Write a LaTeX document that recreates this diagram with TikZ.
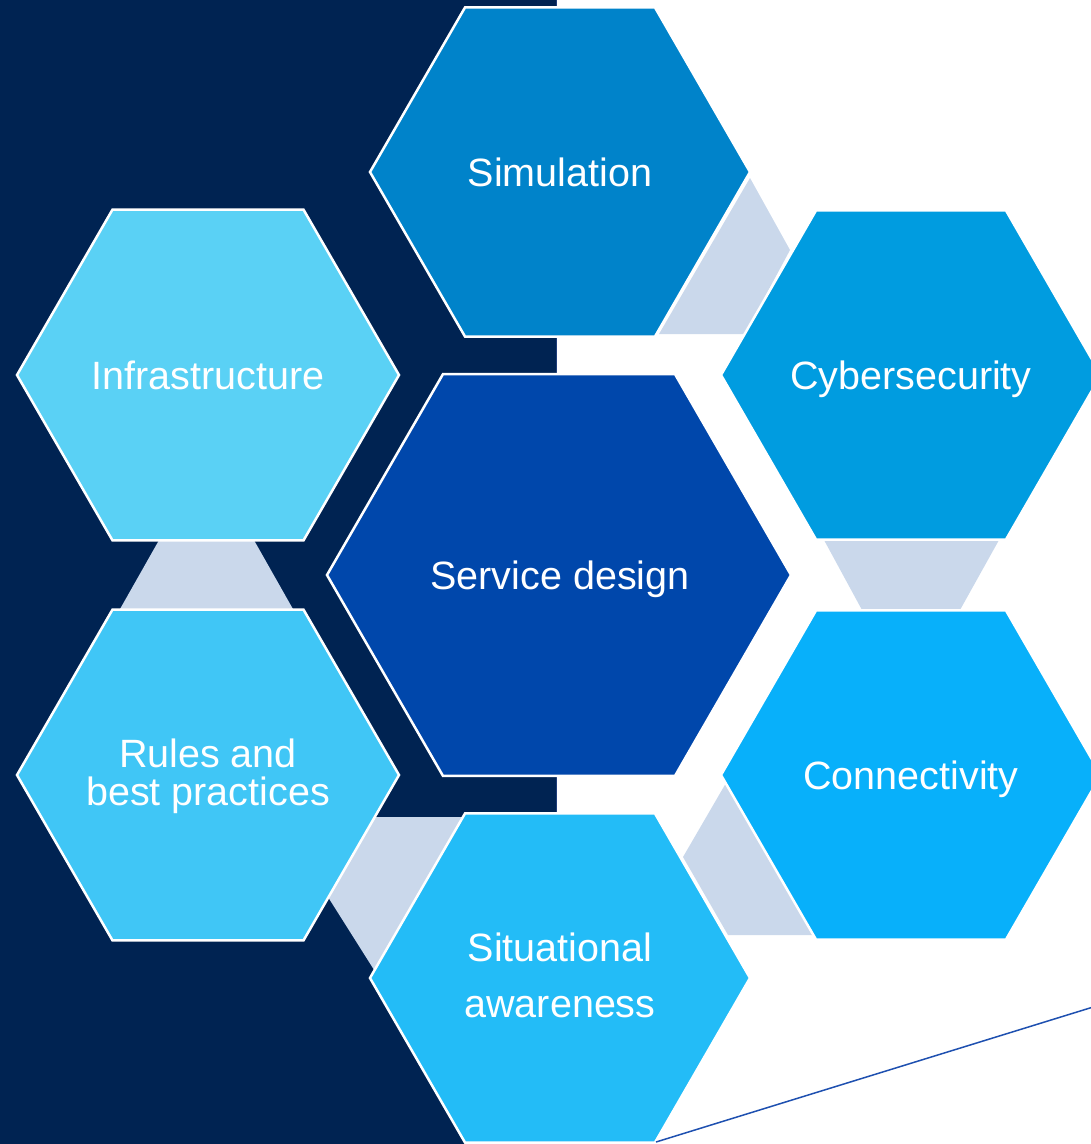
\documentclass[tikz,border=0pt]{standalone}
\usepackage{fontspec}
\setmainfont{Liberation Sans}
\definecolor{navybg}{HTML}{002352}
\definecolor{navyedge}{HTML}{1F3D7A}
\definecolor{linkc}{HTML}{CAD8EB}
\definecolor{csim}{HTML}{0083CA}
\definecolor{cinfra}{HTML}{5AD1F5}
\definecolor{ccyber}{HTML}{009CE0}
\definecolor{cservice}{HTML}{0047AB}
\definecolor{crules}{HTML}{40C6F6}
\definecolor{cconn}{HTML}{08B0FA}
\definecolor{csitu}{HTML}{23BCF7}
\definecolor{cline}{HTML}{1E50B0}
\newcommand\drawhex[4]{%
  \draw[hexcell, fill=#4] ({#1-#3},#2) -- ({#1-#3/2},{#2-#3*0.8660}) -- ({#1+#3/2},{#2-#3*0.8660})
    -- ({#1+#3},#2) -- ({#1+#3/2},{#2+#3*0.8660}) -- ({#1-#3/2},{#2+#3*0.8660}) -- cycle;}
\begin{document}
\begin{tikzpicture}[x=1pt,y=-1pt,
  hexcell/.style={draw=white, line width=2.5pt, line join=miter},
  link/.style={fill=linkc, draw=none},
  lbl/.style={text=white, font=\fontsize{39.5}{38}\selectfont, inner sep=0pt, align=center},
  tail/.style={draw=cline, line width=1.5pt}]
\useasboundingbox (0,0) rectangle (1091,1144);
\clip (0,0) rectangle (1091,1144);
% dark background panel
\filldraw[fill=navybg, draw=navyedge, line width=1pt] (-2,-2) rectangle (556,1150);
% connector bands
\fill[link] (750,178) -- (790,250) -- (745,334) -- (659,334) -- cycle;
\fill[link] (159.1,540) -- (253.9,540) -- (294.1,611) -- (118.9,611) -- cycle;
\fill[link] (824,540) -- (999,540) -- (960,610) -- (862,610) -- cycle;
\fill[link] (726,783) -- (683,857) -- (728,935) -- (813,935) -- cycle;
\fill[link] (375,817) -- (465,817) -- (375.7,972.5) -- (328,897) -- cycle;
% hexagons
\drawhex{560}{172}{190}{csim}
\drawhex{208}{375}{191}{cinfra}
\drawhex{911}{375}{190}{ccyber}
\drawhex{559}{575}{232}{cservice}
\drawhex{208}{775}{191}{crules}
\drawhex{911}{775}{190}{cconn}
\drawhex{560}{978}{190}{csitu}
% labels
\node[lbl, anchor=base] (sim) at (560,186) {Simulation};
\node[lbl, anchor=base] (infra) at (208,389) {Infrastructure};
\node[lbl, anchor=base] (cyber) at (911,389) {Cybersecurity};
\node[lbl, anchor=base] (service) at (560,589) {Service design};
\node[lbl, anchor=base] (conn) at (911,789) {Connectivity};
\node[lbl, anchor=base] (rules) at (208,805) {Rules and\\best practices};
\node[lbl, anchor=base, font=\fontsize{39.5}{56}\selectfont] (situ) at (560,1017) {Situational\\awareness};
% thin tail line
\coordinate (situBR) at (656,1142);
\coordinate (tailend) at (1200,974);
\draw[tail] (situBR) -- (tailend);
\end{tikzpicture}
\end{document}
